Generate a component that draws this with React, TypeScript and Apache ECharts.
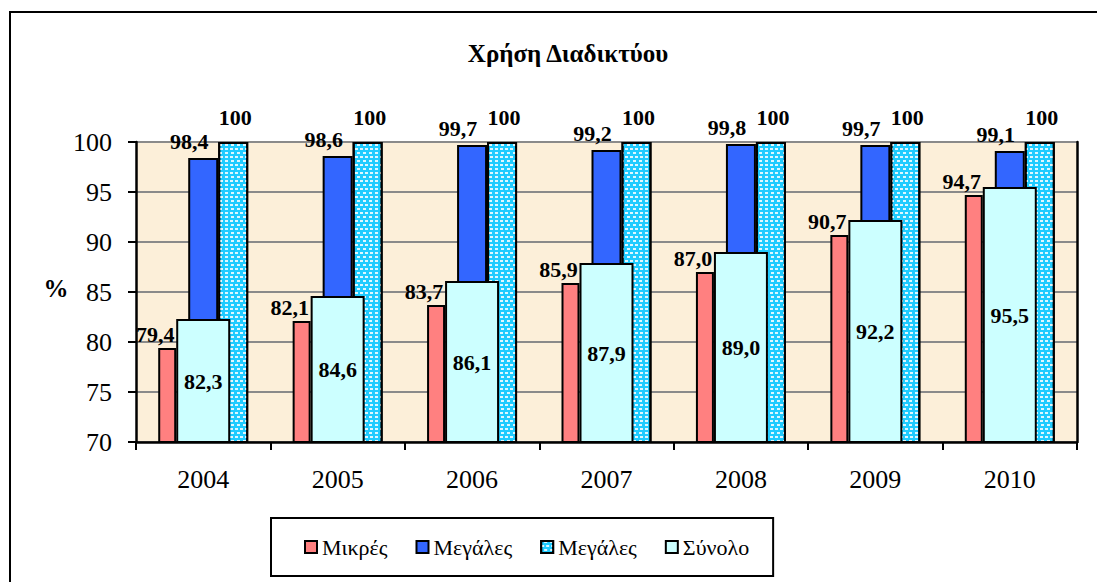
import React, { useEffect, useRef } from "react";
import * as echarts from "echarts";

const categories = ["2004", "2005", "2006", "2007", "2008", "2009", "2010"];
const smallFirms = [79.4, 82.1, 83.7, 85.9, 87.0, 90.7, 94.7];
const largeFirms = [98.4, 98.6, 99.7, 99.2, 99.8, 99.7, 99.1];
const largeFirms2 = [100, 100, 100, 100, 100, 100, 100];
const totalFirms = [82.3, 84.6, 86.1, 87.9, 89.0, 92.2, 95.5];
const yTicks = { min: 70, max: 100, interval: 5 };

const SERIF = "Liberation Serif";

const fmt1 = (p: any) => Number(p.value).toFixed(1).replace(".", ",");

export default function App() {
  const ref = useRef<HTMLDivElement>(null);
  useEffect(() => {
    if (!ref.current) return;
    const chart = echarts.init(ref.current, null, { renderer: "svg" });
    const labelBase = {
      show: true,
      fontFamily: SERIF,
      fontWeight: "bold" as const,
      fontSize: 22,
      color: "#000",
    };
    const border = { borderColor: "#000", borderWidth: 2 };
    chart.setOption({
      animation: false,
      backgroundColor: "#fff",
      textStyle: { fontFamily: SERIF },
      grid: {
        left: 136,
        right: 20,
        top: 142,
        bottom: 140,
        show: true,
        backgroundColor: "#FCEFD9",
        borderWidth: 0,
      },
      legend: {
        data: ["Μικρές", "Μεγάλες", "Μεγάλες ", "Σύνολο"],
        formatter: (name: string) => name.trim(),
        left: 271,
        top: 518,
        orient: "horizontal",
        icon: "rect",
        itemWidth: 12,
        itemHeight: 12,
        itemGap: 28,
        borderColor: "#000",
        borderWidth: 2,
        padding: [16, 24, 16, 33],
        textStyle: { fontFamily: SERIF, fontSize: 22, color: "#000", lineHeight: 26 },
      },
      xAxis: [
        {
          type: "category",
          data: categories,
          axisLine: { show: true, lineStyle: { color: "#000", width: 2.5 } },
          axisTick: { show: true, inside: false, length: 8, lineStyle: { color: "#000", width: 2 } },
          axisLabel: { fontFamily: SERIF, fontSize: 26, color: "#000", margin: 24 },
        },
        {
          type: "category",
          data: categories,
          show: false,
        },
      ],
      yAxis: [
        {
          type: "value",
          min: yTicks.min,
          max: yTicks.max,
          interval: yTicks.interval,
          axisLine: { show: true, lineStyle: { color: "#000", width: 2.5 } },
          axisTick: { show: true, inside: false, length: 8, lineStyle: { color: "#000", width: 2 } },
          axisLabel: { fontFamily: SERIF, fontSize: 26, color: "#000", margin: 24 },
          splitLine: { show: true, lineStyle: { color: "#8a8a8a", width: 2 } },
        },
        {
          type: "value",
          position: "right",
          min: yTicks.min,
          max: yTicks.max,
          interval: yTicks.interval,
          axisLine: { show: true, lineStyle: { color: "#000", width: 2.5 } },
          axisTick: { show: false },
          axisLabel: { show: false },
          splitLine: { show: false },
        },
      ],
      series: [
        {
          name: "Μικρές",
          type: "bar",
          xAxisIndex: 0,
          yAxisIndex: 0,
          barWidth: 18,
          barGap: "0%",
          data: smallFirms,
          itemStyle: { color: "#FF8080", ...border },
          label: { ...labelBase, position: "top", distance: 3, offset: [-12, 0], formatter: fmt1 },
        },
        {
          name: "__gap",
          type: "bar",
          xAxisIndex: 0,
          yAxisIndex: 0,
          barWidth: 12,
          barGap: "0%",
          data: [],
        },
        {
          name: "Μεγάλες",
          type: "bar",
          xAxisIndex: 0,
          yAxisIndex: 0,
          barWidth: 30,
          barGap: "0%",
          data: largeFirms,
          itemStyle: { color: "#3366FF", ...border },
          label: { ...labelBase, position: "top", distance: 6, offset: [-14, 0], formatter: fmt1 },
        },
        {
          name: "Μεγάλες ",
          type: "bar",
          xAxisIndex: 0,
          yAxisIndex: 0,
          barWidth: 30,
          barGap: "0%",
          data: largeFirms2,
          itemStyle: {
            color: "#1FCBFF",
            ...border,
            decal: {
              symbol: "rect",
              color: "rgba(255,255,255,0.85)",
              symbolSize: 1,
              dashArrayX: [[3, 2], [0, 2.5, 3, 0]],
              dashArrayY: [1.5, 1.5],
              rotation: 0,
            },
          },
          label: {
            ...labelBase,
            position: "top",
            distance: 14,
            offset: [2, 0],
            formatter: (p: any) => String(p.value),
          },
        },
        {
          name: "Σύνολο",
          type: "bar",
          xAxisIndex: 1,
          yAxisIndex: 0,
          barWidth: 54,
          data: totalFirms,
          itemStyle: { color: "#CCFFFF", ...border },
          label: { ...labelBase, position: "inside", formatter: fmt1 },
          z: 3,
        },
      ],
      graphic: [
        {
          type: "rect",
          shape: { x: 10, y: 12, width: 1200, height: 700 },
          style: { fill: "none", stroke: "#000", lineWidth: 2 },
          z: -10,
          silent: true,
        },
        {
          type: "text",
          style: {
            text: "Χρήση Διαδικτύου",
            x: 568,
            y: 53,
            textAlign: "center",
            textVerticalAlign: "middle",
            fontFamily: SERIF,
            fontWeight: "bold",
            fontSize: 25,
            fill: "#000",
          },
        },
        {
          type: "text",
          style: {
            text: "%",
            x: 56,
            y: 288,
            textAlign: "center",
            textVerticalAlign: "middle",
            fontFamily: SERIF,
            fontWeight: "bold",
            fontSize: 25,
            fill: "#000",
          },
        },
      ],
    });
    return () => chart.dispose();
  }, []);
  return (
    <div
      ref={ref}
      style={{ position: "fixed", left: 0, top: 0, width: 1097, height: 582 }}
    />
  );
}
